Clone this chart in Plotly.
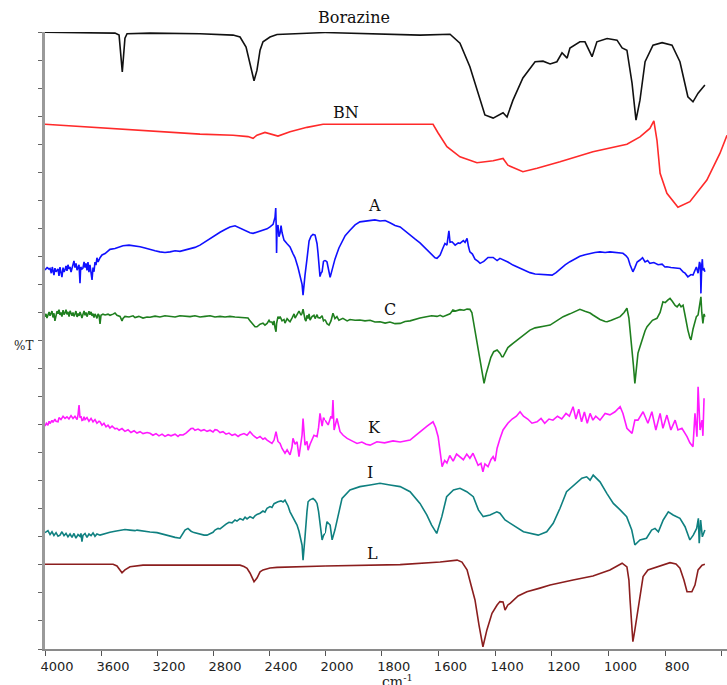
import plotly.graph_objects as go

# ---------------------------------------------------------------------------
# FTIR spectra (wavenumber in cm-1, stacked %T with vertical offsets)
# ---------------------------------------------------------------------------
borazine_wn = [4000, 3500, 3471, 3448, 3429, 3414, 3250, 2893, 2657, 2607, 2564, 2536, 2507,
               2486, 2464, 2443, 2393, 2343, 2179, 2086, 2000, 1877, 1771, 1665, 1559, 1524,
               1489, 1460, 1436, 1407, 1372, 1358, 1337, 1302, 1259, 1231, 1206, 1182, 1164,
               1146, 1136, 1101, 1083, 1058, 1041, 1005, 970, 952, 935, 917, 903, 889, 871,
               843, 811, 776, 748, 720, 702, 684, 660]
borazine_t = [21.99, 21.96, 21.89, 20.58, 21.78, 21.94, 21.96, 21.94, 21.89, 21.82, 21.46, 20.82,
              20.26, 20.64, 21.35, 21.65, 21.82, 21.91, 21.94, 21.98, 21.98, 21.95, 21.94, 21.89,
              21.92, 21.60, 20.76, 19.82, 19.04, 18.93, 19.12, 18.97, 19.57, 20.36, 20.94, 20.96,
              20.86, 20.94, 21.26, 21.07, 21.43, 21.65, 21.65, 21.12, 21.65, 21.77, 21.71, 21.43,
              21.35, 20.18, 18.86, 19.57, 20.94, 21.53, 21.62, 21.53, 20.94, 19.69, 19.51, 19.82,
              20.11]

bn_wn = [4000, 3607, 3200, 2893, 2657, 2550, 2514, 2486, 2429, 2336, 2250, 2129, 2014, 2000,
         1877, 1619, 1601, 1570, 1524, 1464, 1407, 1372, 1355, 1302, 1252, 1171, 1055, 935, 889,
         854, 840, 829, 818, 794, 755, 713, 653, 607, 582]
bn_t = [18.71, 18.59, 18.44, 18.36, 18.32, 18.27, 18.21, 18.32, 18.42, 18.29, 18.44, 18.60,
        18.71, 18.71, 18.71, 18.71, 18.40, 17.91, 17.55, 17.34, 17.41, 17.49, 17.25, 17.02,
        17.14, 17.37, 17.73, 18.00, 18.26, 18.56, 18.83, 18.14, 16.96, 16.25, 15.75, 15.95,
        16.72, 17.67, 18.32]

a_wn = [4000, 3985, 3972, 3964, 3955, 3948, 3936, 3929, 3921, 3907, 3900, 3893, 3885, 3879,
        3871, 3864, 3857, 3850, 3843, 3836, 3828, 3821, 3814, 3800, 3793, 3786, 3778, 3771,
        3757, 3750, 3745, 3736, 3729, 3721, 3714, 3707, 3700, 3693, 3686, 3679, 3671, 3664,
        3657, 3650, 3643, 3636, 3629, 3621, 3607, 3593, 3571, 3550, 3536, 3500, 3464, 3443,
        3400, 3357, 3321, 3286, 3250, 3214, 3179, 3143, 3107, 3071, 3036, 3000, 2964, 2929,
        2893, 2857, 2821, 2786, 2750, 2714, 2679, 2643, 2607, 2571, 2536, 2514, 2480, 2450,
        2414, 2393, 2371, 2357, 2352, 2348, 2346, 2343, 2336, 2329, 2321, 2314, 2307, 2293,
        2271, 2250, 2229, 2214, 2193, 2179, 2164, 2157, 2150, 2143, 2129, 2114, 2100, 2086,
        2071, 2057, 2050, 2036, 2029, 2021, 2011, 2000, 1993, 1982, 1975, 1965, 1951, 1929,
        1912, 1894, 1877, 1859, 1841, 1824, 1806, 1788, 1771, 1753, 1735, 1718, 1700, 1683,
        1665, 1647, 1630, 1612, 1605, 1594, 1584, 1577, 1570, 1563, 1559, 1552, 1541, 1530,
        1524, 1512, 1506, 1499, 1494, 1489, 1480, 1471, 1460, 1453, 1440, 1425, 1407, 1393,
        1383, 1372, 1355, 1337, 1318, 1295, 1277, 1259, 1240, 1220, 1206, 1199, 1185, 1171,
        1153, 1136, 1118, 1101, 1083, 1065, 1048, 1030, 1012, 995, 977, 959, 949, 938, 931,
        924, 914, 907, 899, 889, 880, 871, 862, 854, 840, 825, 811, 801, 794, 780, 765, 748,
        737, 730, 720, 709, 702, 695, 690, 684, 679, 677, 675, 674, 671, 669, 667, 663, 660]
a_t = [13.51, 13.60, 13.55, 13.57, 13.40, 13.62, 13.33, 13.58, 13.45, 13.55, 13.30, 13.62,
       13.40, 13.26, 13.60, 13.45, 13.52, 13.66, 13.48, 13.70, 13.55, 13.62, 13.44, 13.78,
       13.84, 13.60, 13.75, 13.51, 13.70, 13.04, 13.62, 13.55, 13.58, 13.80, 13.60, 13.75,
       13.50, 13.80, 13.44, 13.70, 13.40, 13.16, 13.60, 13.45, 13.80, 13.69, 13.95, 13.80,
       13.95, 14.05, 14.10, 14.20, 14.25, 14.28, 14.35, 14.38, 14.40, 14.38, 14.34, 14.30,
       14.24, 14.20, 14.16, 14.14, 14.16, 14.20, 14.18, 14.22, 14.28, 14.32, 14.40, 14.52,
       14.63, 14.74, 14.86, 14.96, 15.05, 15.09, 15.00, 14.90, 14.84, 14.82, 14.88, 14.93,
       14.98, 15.05, 15.14, 15.40, 15.72, 14.90, 14.12, 14.95, 15.12, 14.70, 14.83, 15.10,
       14.85, 14.58, 14.45, 14.34, 14.10, 13.95, 13.60, 13.25, 13.00, 12.62, 13.05, 13.33,
       13.90, 14.55, 14.72, 14.78, 14.76, 14.45, 14.11, 13.28, 13.40, 13.45, 13.82, 13.86,
       13.80, 13.25, 13.50, 13.90, 14.30, 14.74, 14.93, 15.12, 15.23, 15.25, 15.29, 15.30,
       15.26, 15.28, 15.20, 15.10, 15.05, 14.90, 14.75, 14.62, 14.48, 14.30, 14.10, 13.95,
       13.93, 14.05, 14.30, 14.46, 14.40, 14.91, 14.50, 14.52, 14.40, 14.48, 14.46, 14.56,
       14.50, 14.64, 14.35, 14.16, 14.08, 13.90, 13.82, 13.75, 13.82, 13.96, 13.96, 13.85,
       13.93, 13.89, 13.80, 13.69, 13.60, 13.50, 13.42, 13.37, 13.35, 13.33, 13.32, 13.33,
       13.42, 13.55, 13.70, 13.81, 13.92, 14.00, 14.06, 14.11, 14.14, 14.16, 14.14, 14.16,
       14.14, 14.12, 14.11, 14.02, 13.93, 13.70, 13.45, 13.60, 13.80, 13.87, 13.95, 13.80,
       13.85, 13.75, 13.78, 13.70, 13.72, 13.62, 13.63, 13.60, 13.58, 13.57, 13.45, 13.40,
       13.27, 13.35, 13.33, 13.50, 13.62, 13.40, 13.80, 13.75, 13.30, 12.68, 13.70, 13.90,
       13.51, 13.55, 13.45]

c_wn = [4000, 3993, 3986, 3979, 3971, 3964, 3957, 3950, 3943, 3936, 3929, 3921, 3914, 3907,
        3900, 3893, 3886, 3879, 3871, 3864, 3857, 3850, 3843, 3836, 3828, 3821, 3814, 3807,
        3800, 3793, 3786, 3779, 3771, 3764, 3757, 3750, 3743, 3736, 3729, 3721, 3714, 3707,
        3700, 3693, 3686, 3679, 3671, 3664, 3657, 3650, 3643, 3636, 3629, 3621, 3614, 3607,
        3600, 3586, 3571, 3550, 3536, 3514, 3500, 3486, 3464, 3450, 3443, 3429, 3400, 3371,
        3357, 3330, 3300, 3271, 3250, 3214, 3179, 3143, 3107, 3071, 3036, 3000, 2964, 2929,
        2893, 2857, 2821, 2786, 2750, 2714, 2679, 2643, 2607, 2571, 2550, 2536, 2514, 2500,
        2486, 2464, 2443, 2429, 2414, 2400, 2393, 2379, 2371, 2364, 2357, 2350, 2346, 2336,
        2329, 2321, 2307, 2293, 2286, 2271, 2257, 2250, 2236, 2221, 2214, 2200, 2186, 2171,
        2164, 2157, 2150, 2143, 2136, 2129, 2121, 2114, 2107, 2093, 2079, 2071, 2057, 2050,
        2036, 2021, 2011, 2000, 1993, 1986, 1979, 1972, 1965, 1958, 1951, 1937, 1922, 1912,
        1894, 1877, 1859, 1841, 1824, 1806, 1788, 1771, 1753, 1735, 1718, 1700, 1683, 1665,
        1647, 1640, 1624, 1605, 1594, 1584, 1570, 1559, 1549, 1540, 1524, 1510, 1499, 1489,
        1482, 1475, 1471, 1462, 1453, 1445, 1439, 1432, 1425, 1415, 1405, 1393, 1383, 1376,
        1372, 1365, 1355, 1337, 1318, 1300, 1277, 1259, 1240, 1224, 1206, 1189, 1171, 1160,
        1136, 1118, 1101, 1083, 1065, 1055, 1040, 1030, 1012, 1005, 990, 977, 959, 945, 935,
        928, 921, 917, 912, 907, 902, 896, 889, 880, 871, 864, 855, 845, 829, 818, 808, 800,
        790, 783, 775, 765, 758, 750, 744, 737, 730, 725, 720, 713, 709, 702, 695, 690, 684,
        679, 674, 671, 667, 663, 660]
c_t = [11.85, 11.95, 11.80, 11.92, 12.02, 11.88, 11.96, 12.05, 11.82, 11.97, 11.70, 11.90,
       12.05, 11.95, 12.10, 11.91, 12.00, 11.85, 12.08, 11.92, 11.98, 12.10, 11.93, 12.02,
       11.85, 12.06, 11.95, 11.88, 12.00, 11.86, 11.95, 12.05, 11.84, 11.96, 11.88, 12.02,
       11.92, 11.80, 11.93, 12.05, 11.90, 12.00, 11.85, 11.98, 12.04, 11.92, 12.02, 11.88,
       11.96, 11.82, 11.95, 11.88, 11.79, 11.95, 11.90, 11.59, 11.90, 11.94, 11.91, 11.94,
       11.90, 11.94, 11.98, 11.90, 11.86, 11.70, 11.79, 11.86, 11.84, 11.88, 11.82, 11.86,
       11.80, 11.84, 11.83, 11.87, 11.84, 11.88, 11.87, 11.84, 11.88, 11.86, 11.85, 11.88,
       11.84, 11.86, 11.88, 11.84, 11.86, 11.84, 11.86, 11.84, 11.83, 11.82, 11.80, 11.70,
       11.55, 11.49, 11.49, 11.58, 11.62, 11.55, 11.61, 11.72, 11.66, 11.66, 11.55, 11.70,
       11.45, 11.31, 11.60, 11.85, 11.78, 11.85, 11.70, 11.75, 11.62, 11.78, 11.70, 11.67,
       11.80, 11.95, 11.80, 11.91, 12.05, 11.90, 11.97, 12.12, 11.82, 11.75, 11.69, 11.90,
       11.78, 11.95, 11.73, 11.85, 11.90, 11.78, 11.92, 11.82, 11.80, 11.88, 11.70, 11.75,
       11.60, 11.55, 11.70, 11.97, 11.78, 11.85, 11.72, 11.79, 11.70, 11.75, 11.72, 11.73,
       11.70, 11.72, 11.66, 11.67, 11.62, 11.66, 11.60, 11.61, 11.68, 11.70, 11.76, 11.80,
       11.84, 11.85, 11.88, 11.86, 11.90, 11.85, 11.91, 11.95, 12.09, 12.05, 12.10, 12.08,
       12.12, 12.11, 12.00, 11.60, 11.37, 10.80, 10.30, 9.90, 9.47, 9.80, 10.06, 10.40,
       10.60, 10.66, 10.55, 10.42, 10.42, 10.55, 10.75, 10.90, 11.05, 11.20, 11.37, 11.45,
       11.50, 11.52, 11.55, 11.65, 11.78, 11.85, 11.95, 12.02, 12.11, 12.04, 11.98, 11.91,
       11.82, 11.75, 11.68, 11.67, 11.72, 11.78, 11.85, 12.00, 12.15, 11.80, 11.10, 10.78,
       10.10, 9.47, 10.10, 10.55, 10.78, 11.10, 11.35, 11.49, 11.60, 11.72, 11.79, 12.00,
       12.38, 12.35, 12.45, 12.50, 12.40, 12.25, 12.20, 12.30, 12.20, 12.26, 11.90, 11.60,
       11.37, 11.10, 11.02, 11.40, 11.73, 11.85, 11.91, 12.20, 12.56, 12.00, 11.61, 11.95,
       11.85]

k_wn = [4000, 3990, 3979, 3971, 3964, 3950, 3943, 3929, 3921, 3907, 3900, 3886, 3871, 3857,
        3843, 3829, 3814, 3800, 3786, 3771, 3764, 3757, 3750, 3743, 3736, 3729, 3721, 3714,
        3700, 3686, 3671, 3657, 3643, 3629, 3614, 3607, 3593, 3579, 3564, 3550, 3536, 3521,
        3500, 3486, 3471, 3450, 3429, 3407, 3386, 3364, 3343, 3321, 3300, 3271, 3250, 3229,
        3207, 3186, 3164, 3143, 3121, 3100, 3071, 3050, 3036, 3014, 2993, 2971, 2957, 2943,
        2929, 2907, 2886, 2864, 2843, 2821, 2800, 2786, 2771, 2750, 2729, 2707, 2686, 2664,
        2643, 2621, 2607, 2579, 2557, 2536, 2514, 2486, 2464, 2443, 2429, 2414, 2400, 2379,
        2364, 2350, 2336, 2321, 2307, 2286, 2271, 2250, 2236, 2229, 2214, 2200, 2186, 2171,
        2164, 2157, 2150, 2143, 2129, 2121, 2107, 2093, 2079, 2057, 2046, 2036, 2021, 2011,
        2000, 1989, 1979, 1975, 1972, 1968, 1958, 1947, 1936, 1922, 1905, 1887, 1870, 1855,
        1841, 1817, 1790, 1760, 1735, 1700, 1680, 1660, 1640, 1619, 1610, 1601, 1594, 1587,
        1578, 1570, 1560, 1548, 1536, 1524, 1512, 1500, 1489, 1478, 1468, 1460, 1450, 1443,
        1436, 1425, 1415, 1407, 1400, 1393, 1383, 1372, 1355, 1340, 1325, 1312, 1300, 1285,
        1270, 1252, 1238, 1225, 1210, 1196, 1180, 1165, 1150, 1138, 1125, 1115, 1105, 1095,
        1085, 1075, 1065, 1055, 1045, 1030, 1012, 995, 977, 959, 949, 935, 917, 907, 896,
        878, 861, 847, 833, 818, 808, 794, 780, 765, 755, 741, 723, 713, 702, 695, 688, 684,
        677, 670, 667, 663, 656]
k_t = [7.95, 8.05, 7.98, 8.12, 8.04, 8.15, 8.08, 8.20, 8.12, 8.10, 8.25, 8.18, 8.30, 8.22,
       8.28, 8.20, 8.32, 8.22, 8.30, 8.18, 8.35, 8.70, 8.25, 8.30, 8.15, 8.16, 8.28, 8.18,
       8.25, 8.12, 8.22, 8.10, 8.18, 8.05, 8.12, 8.10, 7.98, 8.05, 7.92, 7.98, 7.88, 7.95,
       7.85, 7.87, 7.80, 7.86, 7.76, 7.82, 7.72, 7.78, 7.70, 7.75, 7.68, 7.72, 7.69, 7.62,
       7.68, 7.60, 7.66, 7.58, 7.64, 7.60, 7.66, 7.58, 7.64, 7.63, 7.70, 7.80, 7.86, 7.87,
       7.80, 7.84, 7.78, 7.82, 7.76, 7.80, 7.74, 7.82, 7.81, 7.72, 7.75, 7.66, 7.70, 7.62,
       7.66, 7.58, 7.63, 7.68, 7.62, 7.75, 7.62, 7.51, 7.58, 7.48, 7.52, 7.45, 7.40, 7.33,
       7.45, 7.75, 7.40, 7.33, 7.15, 6.98, 7.10, 6.92, 7.20, 7.51, 7.30, 7.39, 6.86, 7.30,
       7.63, 8.22, 7.60, 7.27, 7.40, 7.09, 7.30, 7.45, 7.62, 7.57, 7.90, 8.40, 7.95, 8.25,
       8.16, 7.99, 8.30, 8.22, 8.88, 7.81, 8.22, 7.75, 7.62, 7.51, 7.42, 7.33, 7.38, 7.30,
       7.27, 7.39, 7.35, 7.42, 7.38, 7.45, 7.62, 7.80, 7.95, 8.10, 7.90, 7.57, 7.00, 6.50,
       6.72, 6.63, 6.90, 6.70, 6.95, 6.86, 6.75, 6.95, 6.80, 6.98, 6.70, 6.55, 6.62, 6.32,
       6.60, 6.50, 6.75, 6.86, 6.70, 7.16, 7.50, 7.81, 8.05, 8.20, 8.30, 8.46, 8.30, 8.20,
       8.05, 8.10, 8.22, 8.05, 8.20, 8.16, 8.30, 8.20, 8.40, 8.30, 8.64, 8.20, 8.55, 8.10,
       8.45, 8.05, 8.40, 8.16, 8.30, 8.16, 8.40, 8.35, 8.46, 8.64, 8.40, 7.87, 7.69, 8.16,
       8.16, 8.46, 8.05, 8.46, 7.81, 8.40, 7.87, 8.34, 7.81, 8.16, 7.81, 7.87, 7.57, 7.35,
       7.21, 8.40, 7.57, 9.35, 7.81, 8.16, 7.60, 8.94]

i_wn = [4000, 3979, 3964, 3950, 3936, 3921, 3907, 3893, 3879, 3864, 3850, 3836, 3821, 3807,
        3793, 3779, 3764, 3750, 3743, 3736, 3729, 3714, 3700, 3686, 3671, 3657, 3643, 3629,
        3607, 3571, 3536, 3500, 3464, 3429, 3393, 3357, 3343, 3300, 3250, 3200, 3150, 3100,
        3071, 3036, 3014, 3000, 2979, 2957, 2936, 2914, 2893, 2864, 2843, 2821, 2800, 2786,
        2764, 2750, 2729, 2707, 2686, 2664, 2643, 2629, 2607, 2586, 2571, 2557, 2536, 2514,
        2500, 2486, 2464, 2443, 2429, 2414, 2393, 2379, 2364, 2350, 2336, 2314, 2300, 2286,
        2264, 2250, 2229, 2214, 2200, 2186, 2179, 2164, 2157, 2150, 2143, 2129, 2121, 2107,
        2086, 2071, 2057, 2046, 2036, 2029, 2021, 2011, 2000, 1993, 1982, 1975, 1965, 1958,
        1940, 1912, 1877, 1841, 1806, 1771, 1735, 1700, 1665, 1641, 1624, 1606, 1588, 1571,
        1547, 1524, 1500, 1477, 1459, 1442, 1418, 1394, 1383, 1365, 1336, 1300, 1248, 1218,
        1195, 1171, 1148, 1112, 1094, 1077, 1065, 1054, 1030, 1006, 983, 959, 936, 918, 907,
        889, 866, 848, 836, 824, 807, 789, 772, 748, 730, 713, 701, 689, 683, 680, 675, 669,
        660]
i_t = [4.15, 4.22, 4.08, 4.18, 4.05, 4.15, 4.02, 4.06, 4.18, 4.04, 4.12, 4.00, 4.10, 3.98,
       4.12, 3.95, 4.08, 4.02, 4.12, 3.83, 4.05, 4.12, 3.98, 4.10, 4.04, 4.14, 4.02, 4.10,
       4.06, 4.12, 4.16, 4.20, 4.22, 4.26, 4.24, 4.22, 4.24, 4.20, 4.17, 4.15, 4.08, 4.02,
       3.98, 3.95, 4.10, 4.24, 4.30, 4.20, 4.15, 4.12, 4.10, 4.06, 4.06, 4.10, 4.16, 4.24,
       4.30, 4.28, 4.38, 4.45, 4.52, 4.50, 4.60, 4.56, 4.65, 4.60, 4.70, 4.64, 4.72, 4.66,
       4.75, 4.80, 4.84, 4.92, 4.88, 5.02, 5.08, 5.05, 5.18, 5.22, 5.25, 5.28, 5.24, 5.31,
       5.10, 4.89, 4.70, 4.55, 4.42, 4.20, 4.00, 3.70, 3.17, 3.75, 4.00, 4.90, 5.25, 5.32,
       5.37, 5.30, 5.19, 4.90, 4.42, 4.10, 3.89, 4.05, 4.12, 4.54, 4.42, 3.89, 4.25, 4.60,
       5.37, 5.67, 5.79, 5.85, 5.91, 5.85, 5.79, 5.61, 5.19, 4.78, 4.42, 4.12, 4.72, 5.43,
       5.67, 5.73, 5.61, 5.43, 4.96, 4.72, 4.78, 4.89, 4.84, 4.60, 4.42, 4.18, 4.06, 4.18,
       4.48, 5.02, 5.61, 5.91, 6.09, 6.14, 6.02, 6.20, 5.96, 5.55, 5.19, 4.96, 4.72, 4.24,
       3.71, 3.89, 3.95, 4.24, 4.30, 4.18, 4.60, 4.89, 4.78, 4.66, 4.36, 3.89, 4.06, 4.30,
       4.66, 3.77, 4.60, 4.00, 4.24]

l_wn = [4000, 3514, 3486, 3464, 3450, 3429, 3393, 3300, 2607, 2579, 2557, 2536, 2507, 2486,
        2464, 2443, 2393, 2343, 2179, 2000, 1877, 1735, 1594, 1534, 1517, 1499, 1485, 1471,
        1457, 1443, 1429, 1411, 1393, 1383, 1372, 1365, 1355, 1347, 1319, 1288, 1242, 1206,
        1125, 1055, 995, 952, 935, 928, 924, 914, 907, 900, 889, 878, 861, 843, 811, 783, 762,
        748, 734, 723, 706, 695, 684, 670, 660]
l_t = [3.02, 3.02, 2.96, 2.82, 2.72, 2.82, 2.93, 2.99, 2.99, 2.94, 2.88, 2.71, 2.40, 2.53,
       2.75, 2.82, 2.89, 2.91, 2.94, 2.96, 2.99, 3.01, 3.10, 3.17, 3.10, 2.82, 2.28, 1.75,
       0.86, 0.08, 0.68, 1.27, 1.57, 1.69, 1.68, 1.39, 1.57, 1.63, 1.89, 2.04, 2.17, 2.28,
       2.46, 2.60, 2.82, 3.06, 2.93, 2.46, 1.75, 0.26, 0.68, 1.15, 1.93, 2.58, 2.82, 2.88,
       2.99, 3.08, 3.03, 2.88, 2.46, 2.04, 2.04, 2.28, 2.82, 2.99, 3.02]

series = [
    ("Borazine", borazine_wn, borazine_t, "#111111"),
    ("BN", bn_wn, bn_t, "#ff2a2a"),
    ("A", a_wn, a_t, "#1010ff"),
    ("C", c_wn, c_t, "#1f7f1f"),
    ("K", k_wn, k_t, "#ff1aff"),
    ("I", i_wn, i_t, "#0f8080"),
    ("L", l_wn, l_t, "#8b1e1e"),
]

# label placement: wavenumber and offset %T (Borazine sits above the frame,
# so its height is given as a paper fraction instead)
label_pos = {
    "BN": (1926, 19.14),
    "A": (1827, 15.83),
    "C": (1771, 12.09),
    "K": (1824, 7.91),
    "I": (1841, 6.31),
    "L": (1831, 3.42),
}
borazine_label = (1898, 1.0227)

left_ticks = [4000, 3600, 3200, 2800, 2400, 2000]
right_ticks = [1800, 1600, 1400, 1200, 1000, 800]

# Split-scale wavenumber axis: 4000-2000 compressed, 2000-582 expanded
SPLIT = 0.4106

fig = go.Figure()
for name, wn, t, color in series:
    lx = [w for w in wn if w >= 2000]
    ly = [v for w, v in zip(wn, t) if w >= 2000]
    rx = [w for w in wn if w <= 2000]
    ry = [v for w, v in zip(wn, t) if w <= 2000]
    line = dict(color=color, width=1.6)
    fig.add_trace(go.Scatter(x=lx, y=ly, mode="lines", line=line, xaxis="x", yaxis="y",
                             showlegend=False, hoverinfo="skip"))
    fig.add_trace(go.Scatter(x=rx, y=ry, mode="lines", line=line, xaxis="x2", yaxis="y",
                             showlegend=False, hoverinfo="skip"))

label_font = dict(family="DejaVu Serif", size=16, color="#111111")
fig.add_annotation(x=borazine_label[0], y=borazine_label[1], xref="x2", yref="paper",
                   xanchor="center", yanchor="middle",
                   text="Borazine", showarrow=False, font=label_font)
for name, (lx, ly) in label_pos.items():
    fig.add_annotation(x=lx, y=ly, xref="x2", yref="y", text=name, showarrow=False,
                       xanchor="center", yanchor="middle", font=label_font)

fig.add_annotation(x=-0.031, y=10.80, xref="paper", yref="y", text="%T", showarrow=False,
                   xanchor="center", yanchor="middle",
                   font=dict(family="DejaVu Serif", size=12, color="#222222"))
fig.add_annotation(x=1743, y=-0.034, xref="x2", yref="paper", yanchor="top",
                   xanchor="center", text="cm<sup>-1</sup>", showarrow=False,
                   font=dict(family="DejaVu Serif", size=14, color="#222222"))

tick_font = dict(family="DejaVu Sans", size=13, color="#222222")
common_x = dict(showgrid=False, zeroline=False, showline=True, linecolor="#8a8a8a",
                linewidth=1.5, ticks="outside", ticklen=5, tickcolor="#555555",
                tickwidth=1, tickfont=tick_font, ticklabelshift=-12, anchor="y",
                automargin=False)

fig.update_layout(
    width=727, height=685,
    margin=dict(l=45, r=0, t=32, b=36, autoexpand=False),
    paper_bgcolor="white", plot_bgcolor="white",
    xaxis=dict(domain=[0, SPLIT], range=[4000, 2000], tickmode="array",
               tickvals=left_ticks, ticktext=[str(v) for v in left_ticks], **common_x),
    xaxis2=dict(domain=[SPLIT, 1], range=[2000, 582], tickmode="array",
                tickvals=right_ticks, ticktext=[str(v) for v in right_ticks],
                minor=dict(ticks="outside", ticklen=5, tickcolor="#555555",
                           tickmode="linear", tick0=600, dtick=200),
                **common_x),
    yaxis=dict(range=[0, 22], tickmode="linear", tick0=0, dtick=1, showticklabels=False,
               showgrid=False, zeroline=False, showline=True, linecolor="#9a9a9a",
               linewidth=3, ticks="outside", ticklen=4, tickcolor="#666666", anchor="x",
               automargin=False),
)

fig.write_html("out.html")
